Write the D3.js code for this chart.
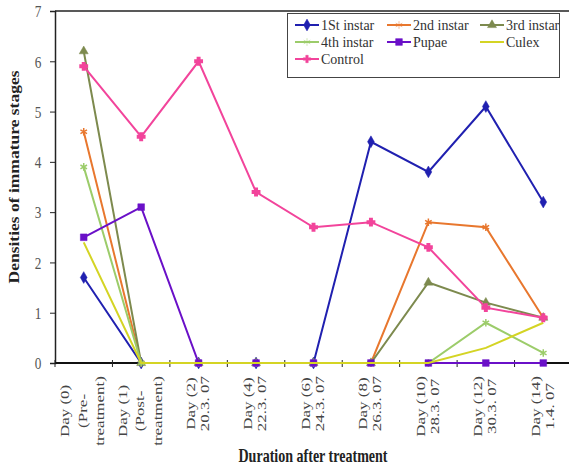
<!DOCTYPE html>
<html>
<head>
<meta charset="utf-8">
<script src="https://cdn.jsdelivr.net/npm/d3@7"></script>
<style>
  body { margin: 0; background: #fff; }
  svg text { font-family: "Liberation Serif", "Times New Roman", serif; }
</style>
</head>
<body>
<div id="chart"></div>
<script>
const categories = [
  ["Day (0)", "(Pre-", "treatment)"],
  ["Day (1)", "(Post-", "treatment)"],
  ["Day (2)", "20.3. 07"],
  ["Day (4)", "22.3. 07"],
  ["Day (6)", "24.3. 07"],
  ["Day (8)", "26.3. 07"],
  ["Day (10)", "28.3. 07"],
  ["Day (12)", "30.3. 07"],
  ["Day (14)", "1.4. 07"]
];
const yTicks = [0, 1, 2, 3, 4, 5, 6, 7];

const instar1 = [1.7, 0, 0, 0, 0, 4.4, 3.8, 5.1, 3.2];
const instar2 = [4.6, 0, 0, 0, 0, 0, 2.8, 2.7, 0.9];
const instar3 = [6.2, 0, 0, 0, 0, 0, 1.6, 1.2, 0.9];
const instar4 = [3.9, 0, 0, 0, 0, 0, 0, 0.8, 0.2];
const pupae = [2.5, 3.1, 0, 0, 0, 0, 0, 0, 0];
const culex = [2.4, 0, 0, 0, 0, 0, 0, 0.3, 0.8];
const control = [5.9, 4.5, 6.0, 3.4, 2.7, 2.8, 2.3, 1.1, 0.9];

const series = [
  { name: "1St instar", values: instar1, color: "#2020b0", marker: "diamond" },
  { name: "2nd instar", values: instar2, color: "#e8772e", marker: "star" },
  { name: "3rd instar", values: instar3, color: "#7d8a4e", marker: "triangle" },
  { name: "4th instar", values: instar4, color: "#9ccc6a", marker: "star" },
  { name: "Pupae", values: pupae, color: "#6a10c8", marker: "square" },
  { name: "Culex", values: culex, color: "#d4d424", marker: null },
  { name: "Control", values: control, color: "#f2449b", marker: "plus" }
];

const width = 569, height = 465;
const margin = { top: 11, right: -3, bottom: 102, left: 55 };
const squeeze = 0.78; // the source text is narrow and tall
const serif = "Liberation Serif";

const svg = d3.select("#chart").append("svg")
  .attr("width", width)
  .attr("height", height);

const x = d3.scaleBand()
  .domain(d3.range(categories.length))
  .range([margin.left, width - margin.right]);

const y = d3.scaleLinear()
  .domain([0, 7])
  .range([height - margin.bottom, margin.top]);

// frame: top line and y axis
svg.append("line")
  .attr("x1", margin.left).attr("x2", width)
  .attr("y1", y(7)).attr("y2", y(7))
  .attr("stroke", "#222").attr("stroke-width", 1.5);

const yAxis = svg.append("g")
  .attr("transform", `translate(${margin.left},0)`)
  .call(d3.axisLeft(y).tickValues(yTicks).tickSize(5).tickFormat(d3.format("d")));
yAxis.attr("font-family", serif);
yAxis.select(".domain").attr("stroke", "#222").attr("stroke-width", 1.5);
yAxis.selectAll(".tick line").attr("stroke", "#222");
yAxis.selectAll(".tick text")
  .attr("x", 0)
  .attr("dy", "0.34em")
  .attr("text-anchor", "middle")
  .attr("transform", `translate(-17,0) scale(${squeeze},1)`)
  .attr("font-size", 17)
  .attr("font-family", serif)
  .attr("fill", "#555");

// x axis along zero
const xAxis = svg.append("g")
  .attr("transform", `translate(0,${y(0)})`);
xAxis.append("line")
  .attr("x1", margin.left).attr("x2", width)
  .attr("stroke", "#111").attr("stroke-width", 2);
xAxis.selectAll("line.tk")
  .data(d3.range(categories.length + 1))
  .join("line")
  .attr("class", "tk")
  .attr("x1", (i) => margin.left + i * x.step())
  .attr("x2", (i) => margin.left + i * x.step())
  .attr("y1", -3).attr("y2", 4)
  .attr("stroke", "#222");

// category labels, rotated and centred as a block under the axis
const labelG = svg.append("g");
categories.forEach((lines, i) => {
  const cx = x(i) + x.bandwidth() / 2 - 1;
  const lh = lines.length > 2 ? 17.5 : 14;
  const g = labelG.append("g");
  const texts = lines.map((t, j) =>
    g.append("text")
      .attr("x", 0)
      .attr("y", (j - (lines.length - 1) / 2) * lh / squeeze)
      .attr("dy", "0.32em")
      .attr("text-anchor", "middle")
      .attr("font-size", 17)
      .attr("font-family", serif)
      .attr("fill", "#444")
      .text(t)
  );
  const maxLen = d3.max(texts, (t) => t.node().getComputedTextLength());
  const cy = 376 + maxLen / 2;
  g.attr("transform", `translate(${cx},${cy}) rotate(-90) scale(1,${squeeze})`);
});

// axis titles
svg.append("text")
  .attr("transform", `translate(313,462) scale(${squeeze},1)`)
  .attr("text-anchor", "middle")
  .attr("font-size", 18)
  .attr("font-weight", "bold")
  .attr("font-family", serif)
  .attr("fill", "#222")
  .text("Duration after treatment");

svg.append("text")
  .attr("transform", `translate(19,177) rotate(-90) scale(1,${squeeze})`)
  .attr("text-anchor", "middle")
  .attr("font-size", 17.5)
  .attr("font-weight", "bold")
  .attr("font-family", serif)
  .attr("fill", "#222")
  .text("Densities of immature stages");

// marker shapes
const markerPath = {
  diamond: d3.symbol(d3.symbolDiamond, 40)(),
  triangle: d3.symbol(d3.symbolTriangle, 35)(),
  square: d3.symbol(d3.symbolSquare, 45)(),
  star: d3.symbol(d3.symbolAsterisk, 40)(),
  plus: d3.symbol(d3.symbolCross, 30)()
};

const line = d3.line()
  .x((d, i) => x(i) + x.bandwidth() / 2)
  .y((d) => y(d));

const seriesG = svg.append("g");
series.forEach((s) => {
  const g = seriesG.append("g");
  g.append("path")
    .attr("d", line(s.values))
    .attr("fill", "none")
    .attr("stroke", s.color)
    .attr("stroke-width", 2);
  if (s.marker) {
    g.selectAll("path.mk")
      .data(s.values)
      .join("path")
      .attr("class", "mk")
      .attr("d", markerPath[s.marker])
      .attr("transform", (d, i) => `translate(${x(i) + x.bandwidth() / 2},${y(d)})`)
      .attr("fill", s.color)
      .attr("stroke", s.color)
      .attr("stroke-width", s.marker === "star" || s.marker === "plus" ? 1.5 : 0.5);
  }
});

// legend
const legend = svg.append("g");
legend.append("rect")
  .attr("x", 287.5).attr("y", 13.5)
  .attr("width", 272).attr("height", 64)
  .attr("fill", "#fff")
  .attr("stroke", "#444")
  .attr("stroke-width", 1);

const colX = [295, 387, 480];
const rowY = [25, 42, 59];
series.forEach((s, i) => {
  const lx = colX[i % 3], ly = rowY[Math.floor(i / 3)];
  legend.append("line")
    .attr("x1", lx).attr("x2", lx + 24)
    .attr("y1", ly).attr("y2", ly)
    .attr("stroke", s.color).attr("stroke-width", 2);
  if (s.marker) {
    legend.append("path")
      .attr("d", markerPath[s.marker])
      .attr("transform", `translate(${lx + 12},${ly})`)
      .attr("fill", s.color)
      .attr("stroke", s.color)
      .attr("stroke-width", 0.5);
  }
  legend.append("text")
    .attr("x", lx + 26).attr("y", ly + 4.5)
    .attr("font-size", 14)
    .attr("font-family", serif)
    .attr("fill", "#333")
    .text(s.name);
});
</script>
</body>
</html>
